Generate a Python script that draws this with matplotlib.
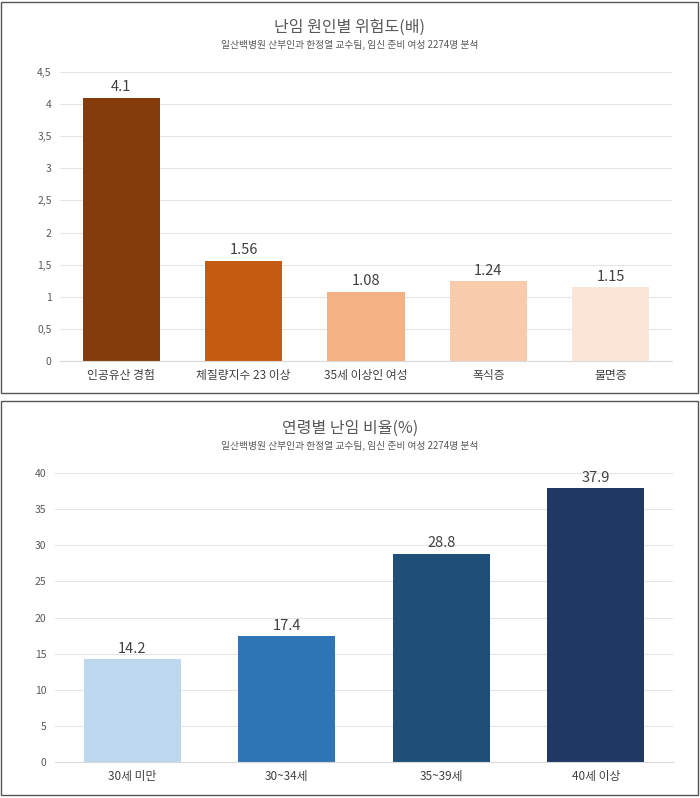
import matplotlib
matplotlib.use("Agg")
import matplotlib.pyplot as plt
from matplotlib.patches import Rectangle

plt.rcParams["font.family"] = "Noto Sans CJK KR"

top_cats = ["인공유산 경험", "체질량지수 23 이상", "35세 이상인 여성", "폭식증", "불면증"]
top_vals = [4.1, 1.56, 1.08, 1.24, 1.15]
top_labels = ["4.1", "1.56", "1.08", "1.24", "1.15"]
top_colors = ["#843C0C", "#C55A11", "#F4B183", "#F8CBAD", "#FBE5D6"]
top_ticks = [0, 0.5, 1, 1.5, 2, 2.5, 3, 3.5, 4, 4.5]
top_ticklabels = ["0", "0,5", "1", "1,5", "2", "2,5", "3", "3,5", "4", "4,5"]

bot_cats = ["30세 미만", "30~34세", "35~39세", "40세 이상"]
bot_vals = [14.2, 17.4, 28.8, 37.9]
bot_labels = ["14.2", "17.4", "28.8", "37.9"]
bot_colors = ["#BDD7EE", "#2E75B6", "#1F4E79", "#203864"]
bot_ticks = [0, 5, 10, 15, 20, 25, 30, 35, 40]

subtitle = "일산백병원 산부인과 한정열 교수팀, 임신 준비 여성 2274명 분석"

W, H = 700, 798
fig = plt.figure(figsize=(W/100, H/100), dpi=100)

def fr(x, y, w, h):
    return [x/W, 1-(y+h)/H, w/W, h/H]

for (y0, y1) in [(2, 393), (401, 795)]:
    fig.patches.append(Rectangle((1/W, 1-y1/H), 697/W, (y1-y0)/H, transform=fig.transFigure,
                                 fill=False, edgecolor="#555555", lw=1))

def panel(rect, cats, vals, labels, colors, ticks, ticklabels, ymax, title, ty):
    ax = fig.add_axes(fr(*rect))
    x = range(len(cats))
    ax.bar(x, vals, width=0.63, color=colors, zorder=2)
    for i, (v, l) in enumerate(zip(vals, labels)):
        ax.text(i, v + ymax*0.012, l, ha="center", va="bottom", fontsize=10.5, color="#404040")
    ax.set_xlim(-0.5, len(cats)-0.5)
    ax.set_ylim(0, ymax)
    ax.set_yticks(ticks)
    ax.set_yticklabels(ticklabels, fontsize=7.5, color="#595959")
    ax.set_xticks(list(x))
    ax.set_xticklabels(cats, fontsize=8.5, color="#404040")
    ax.tick_params(length=0, pad=6)
    ax.grid(axis="y", color="#E5E5E5", lw=0.8, zorder=0)
    for s in ["top", "right", "left"]:
        ax.spines[s].set_visible(False)
    ax.spines["bottom"].set_color("#D9D9D9")
    fig.text(0.5, 1-ty/H, title, ha="center", va="center", fontsize=11.5, color="#595959")
    fig.text(0.5, 1-(ty+18)/H, subtitle, ha="center", va="center", fontsize=7, color="#595959")

panel((60, 72, 612, 289), top_cats, top_vals, top_labels, top_colors,
      top_ticks, top_ticklabels, 4.5, "난임 원인별 위험도(배)", 27)
panel((55, 473, 618, 289), bot_cats, bot_vals, bot_labels, bot_colors,
      bot_ticks, [str(t) for t in bot_ticks], 40, "연령별 난임 비율(%)", 428)

fig.savefig("out.png", dpi=100, facecolor="white")
